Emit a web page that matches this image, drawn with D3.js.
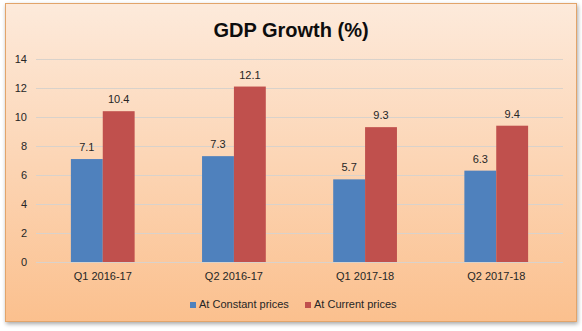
<!DOCTYPE html>
<html>
<head>
<meta charset="utf-8">
<script src="https://cdn.jsdelivr.net/npm/d3@7"></script>
<style>
  body { margin: 0; background: #fff; }
  text { font-family: "Liberation Sans", "Open Sans", sans-serif; fill: #262626; }
</style>
</head>
<body>
<div id="chart"></div>
<script>
// chart data
var quarters = ['Q1 2016-17', 'Q2 2016-17', 'Q1 2017-18', 'Q2 2017-18'];
var seriesNames = ['At Constant prices', 'At Current prices'];
var constantPrices = [7.1, 7.3, 5.7, 6.3];
var currentPrices = [10.4, 12.1, 9.3, 9.4];
var yTicks = [0, 2, 4, 6, 8, 10, 12, 14];
var colors = ['#4f81bd', '#c0504d'];

var W = 582, H = 331;
var plot = { left: 36, right: 563, top: 59, bottom: 262 };

var svg = d3.select('#chart').append('svg')
  .attr('width', W)
  .attr('height', H);

var defs = svg.append('defs');
var grad = defs.append('linearGradient')
  .attr('id', 'bg').attr('x1', 0).attr('y1', 0).attr('x2', 0).attr('y2', 1);
grad.append('stop').attr('offset', '0%').attr('stop-color', '#fdeadb');
grad.append('stop').attr('offset', '100%').attr('stop-color', '#fbc08e');

var shadow = defs.append('filter').attr('id', 'shadow')
  .attr('x', '-5%').attr('y', '-5%').attr('width', '110%').attr('height', '115%');
shadow.append('feGaussianBlur').attr('in', 'SourceAlpha').attr('stdDeviation', 2);
shadow.append('feOffset').attr('dx', 1).attr('dy', 2).attr('result', 'b');
shadow.append('feComponentTransfer').append('feFuncA').attr('type', 'linear').attr('slope', 0.35);
var merge = shadow.append('feMerge');
merge.append('feMergeNode');
merge.append('feMergeNode').attr('in', 'SourceGraphic');

// frame
svg.append('rect')
  .attr('x', 5.5).attr('y', 3.5)
  .attr('width', 571).attr('height', 318)
  .attr('fill', 'url(#bg)')
  .attr('stroke', '#e2a46a')
  .attr('stroke-width', 1)
  .attr('filter', 'url(#shadow)');

// title
svg.append('text')
  .attr('x', 291).attr('y', 37)
  .attr('text-anchor', 'middle')
  .style('font-size', '20px')
  .style('font-weight', 'bold')
  .style('fill', '#0d0d0d')
  .text('GDP Growth (%)');

// scales
var x0 = d3.scaleBand()
  .domain(quarters)
  .range([plot.left, plot.right])
  .paddingInner(0.514)
  .paddingOuter(0.266);

var x1 = d3.scaleBand()
  .domain(seriesNames)
  .range([0, x0.bandwidth()]);

var y = d3.scaleLinear()
  .domain([0, 14])
  .range([plot.bottom, plot.top]);

// gridlines
svg.append('g').selectAll('line').data(yTicks)
  .enter().append('line')
  .attr('x1', plot.left).attr('x2', plot.right)
  .attr('y1', function (d) { return Math.round(y(d)) + 0.5; })
  .attr('y2', function (d) { return Math.round(y(d)) + 0.5; })
  .attr('stroke', '#d9d2cb')
  .attr('stroke-width', 1);

// y axis labels
var yAxis = d3.axisLeft(y).tickValues(yTicks).tickSize(0).tickPadding(9);
var yg = svg.append('g')
  .attr('transform', 'translate(' + plot.left + ',0)')
  .call(yAxis);
yg.select('.domain').remove();
yg.selectAll('text').style('font-size', '11px').attr('font-family', null);

// x axis labels
var xAxis = d3.axisBottom(x0).tickSize(0).tickPadding(10);
var xg = svg.append('g')
  .attr('transform', 'translate(0,' + plot.bottom + ')')
  .call(xAxis);
xg.select('.domain').remove();
xg.selectAll('text').style('font-size', '11px').attr('font-family', null);

// bars
var rows = quarters.map(function (q, i) {
  return { q: q, vals: [constantPrices[i], currentPrices[i]] };
});

var groups = svg.append('g').selectAll('g').data(rows)
  .enter().append('g')
  .attr('transform', function (d) { return 'translate(' + x0(d.q) + ',0)'; });

var cells = groups.selectAll('g').data(function (d) {
    return d.vals.map(function (v, j) { return { name: seriesNames[j], v: v, j: j }; });
  })
  .enter().append('g');

cells.append('rect')
  .attr('x', function (d) { return x1(d.name); })
  .attr('y', function (d) { return y(d.v); })
  .attr('width', x1.bandwidth())
  .attr('height', function (d) { return y(0) - y(d.v); })
  .attr('fill', function (d) { return colors[d.j]; });

cells.append('text')
  .attr('x', function (d) { return x1(d.name) + x1.bandwidth() / 2; })
  .attr('y', function (d) { return y(d.v) - 8; })
  .attr('text-anchor', 'middle')
  .style('font-size', '11px')
  .text(function (d) { return d.v.toFixed(1); });

// legend
var legendX = [190, 305];
var legend = svg.append('g').selectAll('g').data(seriesNames)
  .enter().append('g')
  .attr('transform', function (d, i) { return 'translate(' + legendX[i] + ',302)'; });
legend.append('rect')
  .attr('width', 6).attr('height', 6)
  .attr('fill', function (d, i) { return colors[i]; });
legend.append('text')
  .attr('x', 9).attr('y', 6)
  .style('font-size', '11px')
  .text(function (d) { return d; });
</script>
</body>
</html>
